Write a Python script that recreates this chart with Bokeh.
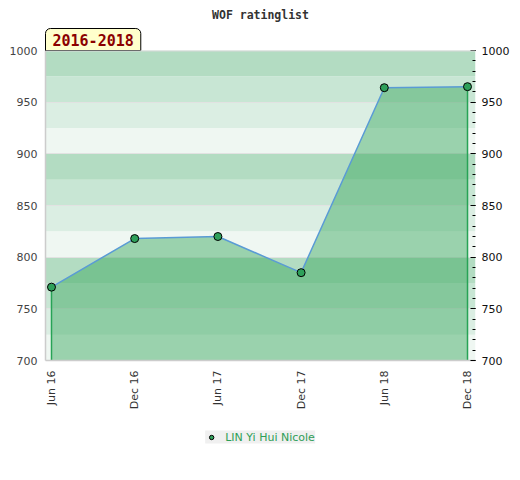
from bokeh.plotting import figure
from bokeh.layouts import column
from bokeh.models import (Range1d, LinearAxis, FixedTicker, SingleIntervalTicker,
                          BoxAnnotation, Title, Legend, LegendItem, Span)
from bokeh.embed import file_html
from bokeh.resources import INLINE
import math

# ---- data ----
months = ["Jun 16", "Dec 16", "Jun 17", "Dec 17", "Jun 18", "Dec 18"]
ratings = [771, 818, 820, 785, 964, 965]
player = "LIN Yi Hui Nicole"
title_text = "WOF ratinglist"
period_text = "2016-2018"

x = list(range(len(months)))
y_lo, y_hi = 700, 1000
GREEN = "#2e9e57"

p = figure(frame_width=430, frame_height=310, output_backend="svg", toolbar_location=None,
           x_range=Range1d(-0.072, 5.096), y_range=Range1d(y_lo, y_hi),
           min_border_left=45, min_border_right=40, min_border_top=50, min_border_bottom=60,
           background_fill_color="white", border_fill_color="white")
p.title.visible = False
p.outline_line_color = None
p.xgrid.visible = False
p.ygrid.ticker = SingleIntervalTicker(interval=50)
p.ygrid.grid_line_color = "#e2e2e2"
p.ygrid.level = "underlay"

# background bands
band_cols = ["#b3dcc2", "#c8e6d4", "#dbeee3", "#eff7f2"]
for i, b in enumerate(range(y_lo, y_hi, 25)):
    p.add_layout(BoxAnnotation(bottom=b, top=b + 25, fill_color=band_cols[3 - i % 4],
                               fill_alpha=1, line_color=None, level="image"))

# area
p.varea(x=x, y1=[y_lo] * len(x), y2=ratings, fill_color="#32a359", fill_alpha=0.45)
p.segment(x0=[x[0], x[-1]], y0=[y_lo, y_lo], x1=[x[0], x[-1]], y1=[ratings[0], ratings[-1]],
          line_color="#27a356", line_width=1.5)
p.line(x, ratings, line_color="#5a9bd5", line_width=1.5)
p.scatter(x, ratings, size=8, fill_color="#2ea05a", line_color="black", line_width=1)

# axes
ax = p.xaxis[0]
ax.ticker = FixedTicker(ticks=x)
ax.major_label_overrides = {i: m for i, m in zip(x, months)}
ax.major_label_orientation = math.pi / 2
ax.major_tick_line_color = None
ax.major_tick_out = 0
ax.minor_tick_line_color = None
ax.minor_tick_out = 0
ax.axis_line_color = "#cccccc"
ax.axis_line_width = 1.5
ax.major_label_standoff = 10
ax.major_label_text_font = "DejaVu Sans"
ax.major_label_text_font_size = "11px"
ax.major_label_text_color = "#333333"

ay = p.yaxis[0]
ay.ticker = SingleIntervalTicker(interval=50)
ay.major_tick_line_color = None
ay.major_tick_out = 0
ay.minor_tick_line_color = None
ay.minor_tick_out = 0
ay.axis_line_color = "#cccccc"
ay.axis_line_width = 1.5
ay.major_label_standoff = 8
ay.major_label_text_font = "DejaVu Sans"
ay.major_label_text_font_size = "11px"
ay.major_label_text_color = "#444444"

ar = LinearAxis(ticker=SingleIntervalTicker(interval=50, num_minor_ticks=5))
ar.axis_line_color = None
ar.major_tick_in = 5
ar.major_tick_out = 0
ar.minor_tick_in = 3
ar.minor_tick_out = 0
ar.major_tick_line_color = "black"
ar.minor_tick_line_color = "black"
ar.major_label_standoff = 6
ar.major_label_text_font = "DejaVu Sans"
ar.major_label_text_font_size = "11px"
ar.major_label_text_color = "#111111"
p.add_layout(ar, "right")

# top frame line
p.add_layout(Span(location=y_hi, dimension="width", line_color="#d8d8d8", line_width=2))

# period box (closest to frame) and title above it
p.add_layout(Title(text=period_text, align="left", offset=0, standoff=0,
                   text_font="DejaVu Sans Mono", text_font_size="15px", text_color="#8b0000",
                   text_font_style="bold",
                   padding=dict(left=7, right=7, top=5, bottom=5),
                   border_radius=dict(top_left=5, top_right=5, bottom_right=0, bottom_left=0),
                   background_fill_color="#ffffcc", border_line_color="black"), "above")
p.add_layout(Title(text=title_text, align="center", standoff=9,
                   text_font="DejaVu Sans Mono", text_font_style="bold",
                   text_font_size="11.5px", text_color="#333333"), "above")

# legend strip below the chart
q = figure(frame_width=430, frame_height=33, output_backend="svg", toolbar_location=None,
           x_range=Range1d(-0.072, 5.096), y_range=Range1d(0, 1),
           x_axis_location=None, y_axis_location=None,
           min_border_left=45, min_border_right=40, min_border_top=0, min_border_bottom=0,
           background_fill_color="white", border_fill_color="white")
q.title.visible = False
q.outline_line_color = None
q.grid.visible = False
swatch = q.scatter(x, ratings, size=7, fill_color="#2ea05a", line_color="black", line_width=1)
leg = Legend(items=[LegendItem(label=player, renderers=[swatch])], location="center",
             orientation="horizontal", background_fill_color="#f0f0f0", background_fill_alpha=1,
             border_line_color=None, padding=5, margin=0, spacing=0,
             glyph_width=12, glyph_height=11, label_height=11, label_standoff=8,
             label_text_font="DejaVu Sans", label_text_font_size="11px",
             label_text_color=GREEN)
q.add_layout(leg)

open("out.html", "w").write(file_html(column(p, q), INLINE))
